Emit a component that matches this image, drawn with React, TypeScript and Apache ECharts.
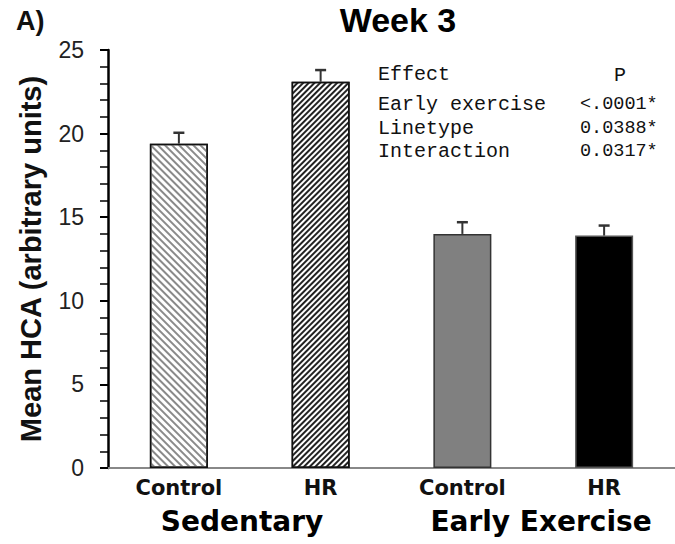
import React, { useEffect, useRef } from "react";
import * as echarts from "echarts";

const categories = ["Control", "HR", "Control", "HR"];
const groups = ["Sedentary", "Early Exercise"];
const means = [19.4, 23.1, 14.0, 13.9];
const sems = [0.65, 0.7, 0.7, 0.6];
const effects = ["Early exercise", "Linetype", "Interaction"];
const pValues = ["<.0001*", "0.0388*", "0.0317*"];

const SANS = "Arial, 'Liberation Sans', Helvetica, sans-serif";
const WIDE = "'DejaVu Sans', Verdana, sans-serif";
const MONO = "'Courier New', 'Liberation Mono', monospace";

export default function App() {
  const ref = useRef<HTMLDivElement>(null);
  useEffect(() => {
    if (!ref.current) return;
    const chart = echarts.init(ref.current, null, { renderer: "svg" });
    const barStyles = [
      {
        color: "#ffffff",
        borderColor: "#111",
        borderWidth: 1.5,
        decal: {
          symbol: "rect",
          symbolSize: 1,
          color: "#8a8a8a",
          backgroundColor: "#ffffff",
          dashArrayX: [[1, 0]],
          dashArrayY: [2, 3],
          rotation: Math.PI / 4,
        },
      },
      {
        color: "#ffffff",
        borderColor: "#111",
        borderWidth: 1.5,
        decal: {
          symbol: "rect",
          symbolSize: 1,
          color: "#222",
          backgroundColor: "#ffffff",
          dashArrayX: [[1, 0]],
          dashArrayY: [2, 2],
          rotation: -Math.PI / 4,
        },
      },
      { color: "#808080", borderColor: "#333", borderWidth: 1.5 },
      { color: "#000000", borderColor: "#555", borderWidth: 1.5 },
    ];
    const rowY = [104, 128, 151];
    const option: any = {
      animation: false,
      aria: { enabled: false },
      grid: { left: 108, right: -5, top: 50, bottom: 76 },
      xAxis: {
        type: "category",
        data: categories,
        axisLine: { lineStyle: { color: "#888", width: 2 } },
        axisTick: { show: false },
        axisLabel: {
          color: "#111",
          fontFamily: WIDE,
          fontWeight: "bold",
          fontSize: 21,
          margin: 9,
        },
      },
      yAxis: {
        type: "value",
        min: 0,
        max: 25,
        interval: 5,
        name: "Mean HCA (arbitrary units)",
        nameLocation: "middle",
        nameGap: 63,
        nameTextStyle: {
          color: "#111",
          fontFamily: SANS,
          fontWeight: "bold",
          fontSize: 29,
        },
        axisLine: { show: true, lineStyle: { color: "#000", width: 2.5 } },
        axisTick: { show: true, length: 8, lineStyle: { color: "#000", width: 2 } },
        minorTick: { show: true, splitNumber: 5, length: 8, lineStyle: { color: "#000", width: 1.5 } },
        splitLine: { show: false },
        axisLabel: {
          color: "#222",
          fontFamily: SANS,
          fontSize: 23,
          margin: 24,
        },
      },
      series: [
        {
          type: "bar",
          barWidth: 58,
          data: means.map((v, i) => ({ value: v, itemStyle: barStyles[i] })),
          z: 2,
        },
        {
          type: "custom",
          z: 3,
          data: means.map((v, i) => [i, v, v + sems[i]]),
          renderItem: (params: any, api: any) => {
            const x = api.value(0);
            const base = api.coord([x, api.value(1)]);
            const top = api.coord([x, api.value(2)]);
            const half = 5.5;
            const style = { stroke: "#333", lineWidth: 2 };
            return {
              type: "group",
              children: [
                { type: "line", shape: { x1: base[0], y1: base[1], x2: top[0], y2: top[1] }, style },
                { type: "line", shape: { x1: top[0] - half, y1: top[1], x2: top[0] + half, y2: top[1] }, style: { stroke: "#333", lineWidth: 2.5 } },
              ],
            };
          },
        },
      ],
      graphic: [
        { type: "text", x: 16, y: 21, style: { text: "A)", fontFamily: SANS, fontWeight: "bold", fontSize: 27, fill: "#111", textVerticalAlign: "middle" } },
        { type: "text", x: 398, y: 20, style: { text: "Week 3", fontFamily: SANS, fontWeight: "bold", fontSize: 34, fill: "#000", textAlign: "center", textVerticalAlign: "middle" } },
        { type: "text", x: 242, y: 521, style: { text: groups[0], fontFamily: WIDE, fontWeight: "bold", fontSize: 28, fill: "#000", textAlign: "center", textVerticalAlign: "middle" } },
        { type: "text", x: 541, y: 521, style: { text: groups[1], fontFamily: WIDE, fontWeight: "bold", fontSize: 28, fill: "#000", textAlign: "center", textVerticalAlign: "middle" } },
        { type: "text", x: 378, y: 74, style: { text: "Effect", fontFamily: MONO, fontSize: 20, fill: "#111", textVerticalAlign: "middle" } },
        { type: "text", x: 620, y: 75, style: { text: "P", fontFamily: MONO, fontSize: 20, fill: "#111", textAlign: "center", textVerticalAlign: "middle" } },
        ...effects.map((e, i) => ({
          type: "text",
          x: 378,
          y: rowY[i],
          style: { text: e, fontFamily: MONO, fontSize: 20, fill: "#111", textVerticalAlign: "middle" },
        })),
        ...pValues.map((p, i) => ({
          type: "text",
          x: 580,
          y: rowY[i],
          style: { text: p, fontFamily: MONO, fontSize: 18.5, fill: "#111", textVerticalAlign: "middle" },
        })),
      ],
    };
    chart.setOption(option);
    return () => chart.dispose();
  }, []);
  return (
    <div
      ref={ref}
      style={{ position: "absolute", left: 0, top: 0, width: 675, height: 544, background: "#fff" }}
    />
  );
}
